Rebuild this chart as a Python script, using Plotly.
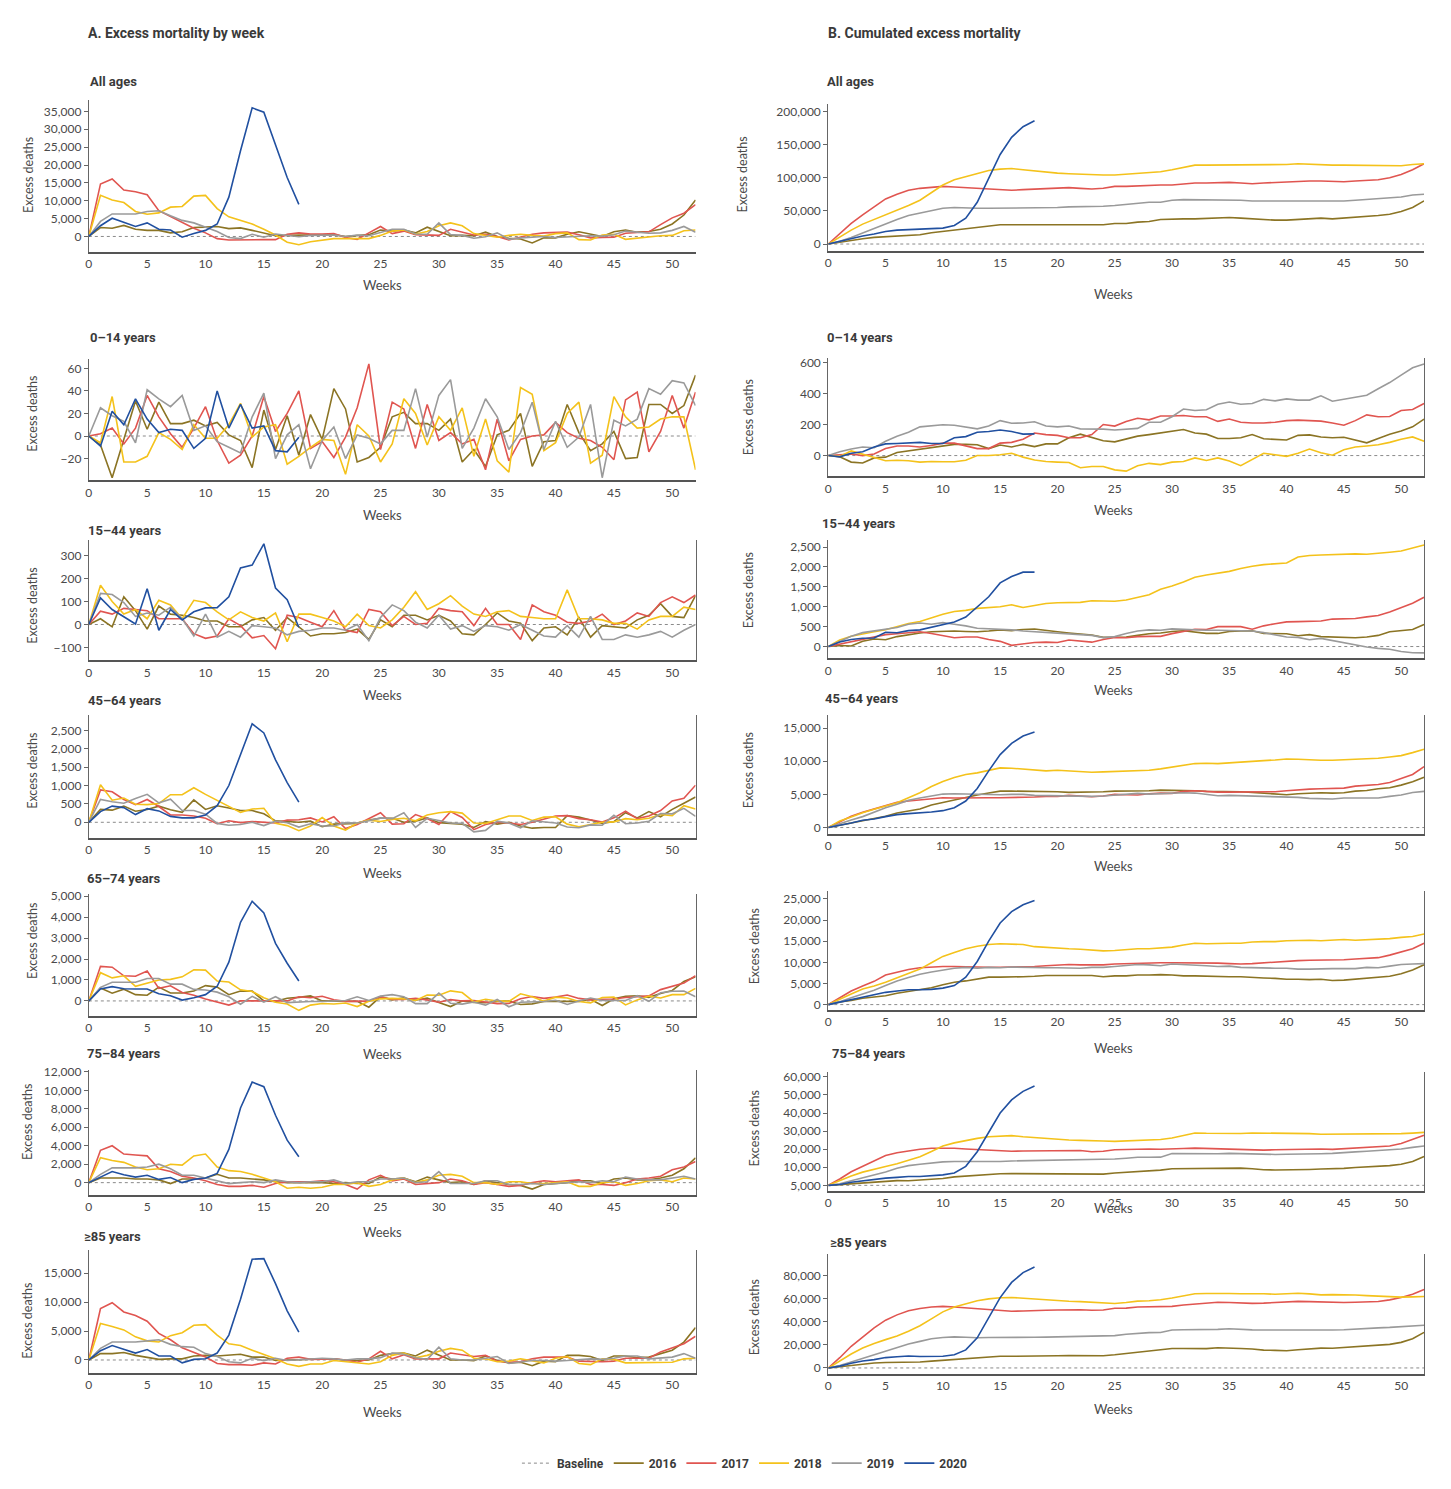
import plotly.graph_objects as go

W, H = 1451, 1489

weeks = list(range(53))
weeks_2020 = list(range(19))
years = ["2016", "2017", "2018", "2019", "2020"]
year_colors = ["#8B7424", "#E05550", "#F4C21B", "#9A9A9A", "#2150A0"]
baseline_weeks = [0, 52]
baseline_value = [0, 0]

# ---------------- A. weekly excess deaths ----------------
wk_all_2016 = [0, 2500, 2300, 3100, 2000, 1700, 1700, 1000, 1300, 2500,
               2600, 2800, 2200, 2400, 1700, 1000, 200, 300, 400, 500,
               400, 500, 0, 200, 500, 1800, 1500, 1800, 1000, 2600,
               1300, 200, 300, 200, 1200, 0, -500, -700, -1800, -400,
               -400, 600, 1300, 700, 0, 1300, 1800, 1200, 1400, 2000,
               3500, 6000, 10200]
wk_all_2017 = [0, 14700, 16100, 13000, 12500, 11700, 7200, 5600, 3800, 2300,
               1000, -600, -1000, -900, -1000, -900, -900, 600, 1000, 700,
               700, 800, -300, -800, 1000, 2800, 800, 1500, 500, 400,
               300, 2000, 1200, 400, 600, 0, -1000, -300, 600, 1000,
               1200, 1200, 500, -400, -300, -200, 900, 1200, 1300, 3300,
               5200, 6500, 8900]
wk_all_2018 = [0, 11500, 10200, 9500, 7000, 6200, 6600, 8200, 8400, 11300,
               11500, 7800, 5500, 4500, 3500, 2000, 400, -1600, -2300, -1500,
               -1000, -600, -600, -700, -600, 300, 1500, 1800, 700, 1400,
               3000, 3800, 3000, 800, 200, -200, 300, 600, 300, 100,
               800, 1000, -900, -1000, 400, 600, -800, -500, 0, 200,
               300, 1600, 1800]
wk_all_2019 = [0, 4200, 6300, 6300, 6300, 7000, 7200, 5800, 4500, 3800,
               2500, 1400, -300, -600, 600, -200, 700, 300, -100, 300,
               300, 400, 0, 400, 200, 1000, 2000, 2000, 700, 600,
               3800, 500, 300, -500, -100, 1000, -800, -400, -200, 0,
               -300, -100, -100, 200, 100, 500, 1500, 1200, 900, 1000,
               1700, 2800, 1200]
wk_all_2020 = [0, 3000, 5100, 3900, 2800, 3800, 2000, 1800, -200, 800,
               1700, 3500, 11000, 24000, 36000, 34800, 25500, 16500, 9000]

wk_014_2016 = [0, -8, -37, -4, 31, 6, 30, 11, 11, 14,
               9, 12, 1, -4, -28, 23, -12, 18, -17, 19,
               -3, 42, 24, -23, -19, -10, 17, 21, 11, 11,
               5, 15, -23, -12, -27, 1, 5, 20, -27, -5,
               -4, 28, 3, -13, -7, 4, -20, -19, 28, 28,
               20, 27, 54]
wk_014_2017 = [0, 2, 7, -7, 7, 36, 17, 2, -10, 7,
               26, -4, -24, -17, 0, 35, 4, 20, 40, -11,
               -5, -19, -1, 25, 64, -12, 30, 24, -11, 28,
               -4, 3, -7, -3, -30, 15, -22, -3, 0, 1,
               12, 3, -2, -4, -10, -21, 32, 39, -14, 4,
               36, 7, 39]
wk_014_2018 = [0, -6, 35, -23, -23, -18, 3, -3, -12, 10,
               -2, -2, 10, 29, -1, 8, 10, -25, -18, -10,
               -3, -4, -34, 10, 0, -23, -7, 33, 20, -8,
               17, 5, 25, -18, 15, -22, -32, 43, 37, -13,
               -6, 20, 30, -24, -17, 35, 17, 7, 8, 15,
               17, 17, -30]
wk_014_2019 = [0, 25, 18, 13, -6, 41, 33, 26, 36, 5,
               9, -5, -10, -15, 17, 38, -20, 1, 10, -29,
               -4, 8, -20, 1, -2, -7, 5, 5, 42, -1,
               36, 50, -11, 7, 33, 17, -12, 3, 30, -12,
               13, -10, -1, 28, -37, 14, 9, 15, 42, 37,
               49, 47, 27]
wk_014_2020 = [0, -9, 22, 10, 33, 15, 3, 6, 5, -11,
               -2, 40, 7, 28, 7, 9, -13, -14, -1]

wk_1544_2016 = [0, 25, -10, 120, 60, -20, 80, 45, 40, 30,
                15, 15, -10, -10, 20, 30, -25, 30, -10, -50,
                -40, -40, -35, -20, -65, 20, -10, 40, 40, 20,
                40, 15, -40, -45, 0, 50, 15, 5, -70, -15,
                -10, -45, 30, -55, -5, -10, -15, 20, 40, 90,
                35, 30, 125]
wk_1544_2017 = [0, 58, 45, 70, 65, 60, 25, 25, 25, -40,
                -60, -50, 25, -5, -58, -48, -105, 40, 30, 10,
                -10, 60, -25, -35, 65, 55, -5, 35, 0, 5,
                70, 60, 55, -5, 70, 0, 0, -65, 85, 55,
                40, 10, 5, 15, 45, 0, 15, 50, 35, 95,
                120, 95, 128]
wk_1544_2018 = [0, 170, 100, 45, 65, 25, 105, 85, 25, 105,
                95, 55, 20, 55, 30, 15, 50, -75, 45, 45,
                30, 15, -10, 45, -5, -15, 20, 75, 142, 65,
                90, 125, 80, 45, 35, 55, 60, 35, 30, 25,
                25, 150, 25, 25, 20, 5, 5, -20, 20, 35,
                35, 75, 65]
wk_1544_2019 = [0, 135, 130, 95, 35, 50, 40, 75, 25, -50,
                45, -55, -30, -55, -5, -10, -15, -45, -30, -25,
                -15, -15, -25, 0, -70, 30, 85, 60, 10, -15,
                40, -20, -5, -30, -5, -10, -25, 0, -25, -50,
                -55, -5, -55, 35, -65, -65, -45, -55, -45, -30,
                -55, -25, 0]
wk_1544_2020 = [0, 115, 65, 35, 2, 155, -25, 65, 20, 55,
                72, 73, 120, 245, 258, 350, 158, 108, -12]

wk_4564_2016 = [0, 350, 330, 440, 300, 350, 440, 340, 270, 610,
                350, 450, 390, 320, 320, 230, 40, 20, 0, 30,
                -120, -50, -30, -30, 60, 110, 110, 0, 30, 120,
                -10, -40, -50, -140, 20, -50, 0, -100, -160, -140,
                -140, 180, 140, 60, -30, 20, 260, 120, 290, 150,
                350, 520, 690]
wk_4564_2017 = [0, 880, 830, 620, 480, 620, 430, 200, 200, 170,
                110, -40, 40, -10, 20, 0, -20, 60, 70, 120,
                10, 150, -170, -60, 100, 260, -50, -40, 210, 100,
                -60, 290, 130, -200, -60, 0, -20, -60, 0, 80,
                170, 180, 100, 70, 10, 120, 300, 100, 170, 320,
                580, 650, 1010]
wk_4564_2018 = [0, 1020, 600, 660, 490, 480, 510, 750, 750, 940,
                760, 600, 440, 270, 360, 380, -30, -90, -230, -100,
                130, -100, -210, -20, 60, 20, 80, 110, 40, 200,
                260, 290, 250, -20, -30, 70, 170, 170, 50, 140,
                150, -50, -120, -60, 0, 10, 100, 70, 110, 210,
                180, 450, 360]
wk_4564_2019 = [0, 620, 560, 520, 650, 760, 530, 630, 320, 320,
                220, -30, -80, -60, 0, -90, 30, -10, -130, -40,
                -100, -100, -10, -20, 40, 120, 100, 260, -140, 110,
                50, -20, -30, -260, -220, 30, -20, -150, 40, 10,
                -20, -130, -150, -70, -80, 190, -40, -20, 30, 240,
                230, 380, 160]
wk_4564_2020 = [0, 290, 440, 400, 210, 370, 310, 160, 120, 120,
                200, 450, 1000, 1850, 2680, 2430, 1700, 1080, 550]

wk_6574_2016 = [0, 620, 370, 560, 300, 270, 660, 380, 380, 470,
                730, 660, 300, 470, 470, 0, -20, 130, 170, 240,
                0, -10, -20, -20, -300, 200, 50, 150, 30, 140,
                -80, -270, 0, -70, -90, -20, -10, -170, -140, -30,
                -20, -20, -20, 80, -220, 100, 220, 250, 170, 350,
                500, 930, 1150]
wk_6574_2017 = [0, 1650, 1610, 1200, 1180, 1430, 600, 720, 400, 270,
                90, -60, -200, 0, 0, 0, 0, 0, 200, 150,
                220, 60, -20, -20, -10, 200, 70, 70, 120, 50,
                -60, 60, 0, 20, -50, -130, -120, 100, 210, 120,
                180, 280, 120, 50, 80, 90, 160, 200, 240, 540,
                700, 850, 1200]
wk_6574_2018 = [0, 1350, 1100, 1200, 700, 850, 1000, 1030, 1150, 1490,
                1470, 950, 900, 530, 450, 150, -60, -150, -450, -200,
                -120, -150, -100, -270, -20, 100, 120, 100, 20, 280,
                270, 480, 400, -50, 80, 0, -20, 340, 200, -10,
                180, 140, -30, -90, 160, 190, -190, 50, 230, 140,
                300, 300, 600]
wk_6574_2019 = [0, 650, 890, 900, 890, 1070, 1070, 800, 800, 550,
                520, 420, 200, -160, 220, -60, 200, -80, -40, -30,
                -30, -20, 20, 200, 20, 230, 300, 200, -130, -130,
                370, -110, -150, -50, -200, 70, -280, -60, -60, -30,
                30, -170, 0, 140, 20, 20, 20, 250, -20, 390,
                460, 470, 200]
wk_6574_2020 = [0, 570, 680, 580, 570, 570, 340, 250, 40, 150,
                300, 700, 1850, 3750, 4760, 4200, 2750, 1800, 950]

wk_7584_2016 = [0, 500, 500, 500, 400, 400, 300, -100, 400, 400,
                500, 900, 500, 500, 400, 300, 100, 0, 0, 0,
                0, -100, 0, -100, -100, 600, 400, 500, 100, 600,
                300, 0, 100, -200, 200, 0, -200, -300, -700, -200,
                -100, 0, 200, 200, -100, 400, 500, 300, 300, 500,
                800, 1500, 2700]
wk_7584_2017 = [0, 3500, 4000, 3100, 3000, 2900, 1500, 1200, 700, 500,
                200, -200, -400, -400, -300, -500, -100, 100, 100, 100,
                200, 100, -200, -700, 300, 800, 200, 400, -200, -100,
                0, 400, 200, -200, 0, -200, -400, -300, 0, 200,
                100, 200, 300, -200, -200, -300, 0, 400, 500, 700,
                1400, 1700, 2300]
wk_7584_2018 = [0, 2700, 2400, 2200, 1700, 1400, 1500, 2000, 1900, 2900,
                3100, 1700, 1300, 1200, 900, 500, 100, -600, -500, -600,
                -500, -200, -200, 0, -400, -200, 300, 500, 0, 300,
                800, 900, 700, 0, 0, -200, 100, 100, -100, -100,
                0, 100, -400, -400, 0, 100, -300, -100, 200, 300,
                100, 500, 400]
wk_7584_2019 = [0, 900, 1600, 1600, 1600, 1700, 2000, 1500, 800, 800,
                500, 200, -100, 0, 100, 0, 300, 100, 0, 100,
                100, 300, -100, 100, 100, 400, 400, 500, 0, 100,
                1200, -100, -100, -100, 200, 200, -200, -200, -100, -200,
                -100, 0, 100, 0, 200, 100, 600, 400, 300, 300,
                500, 700, 400]
wk_7584_2020 = [0, 600, 1200, 850, 600, 800, 350, 550, 0, 350,
                500, 1000, 3600, 8100, 10900, 10400, 7300, 4600, 2800]

wk_85_2016 = [0, 1100, 1100, 1300, 800, 400, 100, 200, 200, 700,
              800, 700, 800, 1000, 500, 500, -100, 0, 100, 200,
              200, 200, -100, -100, 0, 800, 1100, 1200, 700, 1700,
              800, 0, 0, -100, 700, -100, -500, -400, -1000, -200,
              -300, 800, 800, 600, -100, 700, 700, 400, 500, 1100,
              1700, 3100, 5600]
wk_85_2017 = [0, 8900, 9900, 8300, 7700, 6700, 4600, 3500, 2100, 1300,
              500, -600, -800, -800, -900, -500, -700, 300, 500, 100,
              200, 200, 0, -400, 200, 1500, 200, 900, 200, 200,
              200, 1200, 900, 600, 800, -200, -400, -300, 200, 500,
              500, 500, -200, -300, -300, -200, 300, 300, 300, 1400,
              2100, 2800, 4100]
wk_85_2018 = [0, 6300, 5800, 5200, 4000, 3300, 3100, 4200, 4700, 6000,
              6100, 4300, 2800, 2500, 1700, 1000, 200, -700, -1100, -700,
              -700, -100, -300, -600, -700, -300, 800, 1200, 400, 800,
              1500, 2000, 1700, 300, 200, -300, -200, 200, -100, -500,
              300, 600, -600, -800, 200, 100, -500, -500, -500, -400,
              -400, 200, 300]
wk_85_2019 = [0, 2000, 3100, 3100, 3100, 3300, 3500, 2700, 2300, 2200,
              1100, 600, -300, -500, 300, -100, 300, -100, 0, 200,
              300, 200, 0, 200, 200, 400, 1200, 1000, 400, 100,
              2200, 200, 0, 0, 300, 600, -600, -400, -100, -100,
              -200, -100, 0, 200, 100, 300, 700, 700, 200, 400,
              500, 1100, 300]
wk_85_2020 = [0, 1600, 2500, 1900, 1200, 1800, 700, 700, -500, 100,
              200, 1200, 4300, 10500, 17400, 17500, 13200, 8500, 4800]

# ---------------- B. cumulated excess deaths ----------------
cum_all_2016 = [0, 3000, 5000, 8000, 10000, 11000, 12000, 13000, 14000, 17000,
                19000, 22000, 24000, 26000, 28000, 29000, 29000, 29000, 29000, 29000,
                30000, 30000, 30000, 30000, 29000, 31000, 31000, 33000, 34000, 37000,
                38000, 38000, 38000, 39000, 40000, 40000, 39000, 38000, 36000, 36000,
                36000, 37000, 38000, 39000, 38000, 39000, 41000, 42000, 43000, 45000,
                49000, 55000, 65000]
cum_all_2017 = [0, 16000, 31000, 44000, 56000, 68000, 75000, 81000, 84000, 86000,
                87000, 86000, 85000, 84000, 83000, 82000, 81000, 82000, 83000, 83000,
                84000, 85000, 84000, 83000, 84000, 87000, 87000, 88000, 89000, 89000,
                89000, 91000, 92000, 92000, 93000, 93000, 92000, 91000, 92000, 93000,
                94000, 95000, 95000, 95000, 94000, 94000, 95000, 96000, 97000, 100000,
                105000, 112000, 121000]
cum_all_2018 = [0, 11000, 21000, 30000, 37000, 43000, 50000, 58000, 66000, 78000,
                89000, 97000, 102000, 107000, 111000, 113000, 114000, 112000, 110000, 108000,
                107000, 106000, 105000, 104000, 104000, 104000, 105000, 107000, 108000, 109000,
                112000, 116000, 119000, 119000, 119000, 119000, 119000, 120000, 120000, 120000,
                120000, 121000, 120000, 119000, 119000, 119000, 119000, 118000, 118000, 118000,
                118000, 120000, 121000]
cum_all_2019 = [0, 4000, 10000, 17000, 23000, 30000, 37000, 43000, 47000, 51000,
                54000, 55000, 54000, 54000, 54000, 54000, 55000, 55000, 55000, 55000,
                55000, 56000, 56000, 57000, 57000, 58000, 60000, 62000, 63000, 63000,
                66000, 67000, 67000, 67000, 66000, 67000, 66000, 65000, 65000, 65000,
                64000, 64000, 64000, 64000, 65000, 65000, 66000, 67000, 68000, 69000,
                71000, 74000, 75000]
cum_all_2020 = [0, 4000, 9000, 12000, 15000, 19000, 21000, 22000, 22000, 23000,
                24000, 28000, 39000, 63000, 99000, 135000, 161000, 177000, 186000]

cum_014_2016 = [0, -8, -42, -48, -15, -10, 20, 30, 40, 52,
                62, 72, 72, 70, 45, 68, 55, 72, 58, 75,
                75, 115, 138, 115, 95, 88, 105, 125, 135, 145,
                155, 168, 145, 138, 110, 110, 115, 135, 108, 105,
                100, 130, 133, 120, 115, 118, 100, 82, 110, 138,
                158, 185, 235]
cum_014_2017 = [0, 3, 10, 0, 10, 45, 62, 62, 55, 65,
                80, 80, 60, 45, 45, 80, 85, 105, 145, 135,
                130, 115, 115, 135, 200, 190, 220, 240, 230, 255,
                255, 258, 250, 250, 220, 235, 215, 210, 210, 215,
                225, 228, 225, 222, 210, 195, 225, 262, 250, 252,
                290, 297, 335]
cum_014_2018 = [0, -5, 30, 8, -15, -33, -30, -33, -42, -38,
                -40, -40, -30, 0, 0, 5, 15, -10, -28, -38,
                -42, -45, -78, -70, -70, -92, -100, -65, -50, -58,
                -42, -38, -15, -32, -15, -35, -65, -25, 15, 5,
                -5, 15, 42, 18, 2, 37, 55, 62, 70, 85,
                105, 120, 92]
cum_014_2019 = [0, 25, 42, 55, 50, 92, 125, 150, 185, 190,
                198, 195, 185, 172, 190, 225, 208, 210, 218, 190,
                185, 190, 172, 172, 170, 165, 170, 175, 215, 215,
                250, 300, 290, 295, 330, 345, 330, 335, 362, 352,
                365, 357, 357, 385, 350, 363, 372, 388, 430, 470,
                518, 565, 590]
cum_014_2020 = [0, -8, 15, 25, 55, 75, 78, 82, 85, 78,
                78, 115, 122, 150, 155, 165, 155, 138, 140]

cum_1544_2016 = [0, 25, 15, 135, 190, 170, 250, 300, 340, 370,
                 380, 390, 380, 370, 390, 420, 400, 430, 440, 400,
                 370, 340, 310, 290, 230, 240, 240, 280, 320, 340,
                 380, 395, 355, 330, 330, 380, 390, 395, 330, 320,
                 320, 270, 300, 250, 240, 230, 220, 240, 280, 370,
                 400, 430, 555]
cum_1544_2017 = [0, 60, 110, 175, 240, 300, 320, 345, 370, 330,
                 270, 220, 240, 240, 175, 130, 30, 70, 100, 110,
                 100, 165, 140, 110, 175, 225, 220, 250, 255, 255,
                 325, 385, 435, 430, 500, 500, 500, 435, 520, 575,
                 620, 625, 625, 640, 690, 690, 705, 745, 780, 870,
                 990, 1090, 1240]
cum_1544_2018 = [0, 165, 260, 320, 370, 420, 500, 580, 630, 720,
                 810, 880, 910, 960, 980, 1000, 1050, 980, 1030, 1080,
                 1100, 1110, 1110, 1150, 1150, 1140, 1170, 1240, 1300, 1440,
                 1520, 1620, 1740, 1800, 1840, 1890, 1960, 2020, 2060, 2080,
                 2100, 2250, 2290, 2300, 2310, 2320, 2330, 2320, 2340, 2370,
                 2400, 2480, 2550]
cum_1544_2019 = [0, 135, 260, 350, 390, 440, 480, 560, 590, 560,
                 600, 560, 520, 460, 450, 440, 420, 390, 370, 350,
                 330, 310, 290, 280, 225, 250, 330, 390, 420, 410,
                 445, 430, 430, 410, 410, 405, 390, 390, 350, 300,
                 240, 230, 170, 205, 150, 100, 55, -10, -45, -70,
                 -125, -155, -160]
cum_1544_2020 = [0, 115, 175, 210, 215, 360, 345, 400, 420, 480,
                 545, 615, 740, 990, 1250, 1600, 1760, 1870, 1870]

cum_4564_2016 = [0, 350, 650, 1100, 1400, 1700, 2200, 2500, 2800, 3400,
                 3800, 4200, 4600, 4900, 5200, 5500, 5500, 5500, 5500, 5500,
                 5400, 5300, 5300, 5300, 5400, 5500, 5500, 5500, 5550, 5650,
                 5650, 5600, 5550, 5450, 5450, 5400, 5400, 5300, 5150, 5050,
                 4950, 5100, 5200, 5250, 5200, 5250, 5500, 5600, 5850, 6000,
                 6400, 6900, 7600]
cum_4564_2017 = [0, 900, 1700, 2300, 2800, 3400, 3800, 4000, 4200, 4400,
                 4500, 4450, 4500, 4500, 4500, 4500, 4500, 4550, 4600, 4700,
                 4700, 4850, 4700, 4650, 4750, 5000, 4950, 4900, 5100, 5200,
                 5150, 5450, 5550, 5400, 5350, 5350, 5350, 5300, 5300, 5400,
                 5550, 5700, 5800, 5850, 5850, 5950, 6250, 6350, 6500, 6800,
                 7400, 8000, 9200]
cum_4564_2018 = [0, 1000, 1600, 2250, 2750, 3200, 3750, 4500, 5250, 6200,
                 6950, 7550, 8000, 8250, 8600, 9000, 8950, 8850, 8650, 8550,
                 8650, 8550, 8350, 8350, 8400, 8450, 8500, 8600, 8650, 8850,
                 9100, 9400, 9650, 9700, 9650, 9750, 9900, 10050, 10100, 10200,
                 10350, 10300, 10200, 10150, 10150, 10200, 10300, 10350, 10450, 10650,
                 10850, 11300, 11800]
cum_4564_2019 = [0, 600, 1150, 1650, 2300, 3000, 3500, 4100, 4450, 4750,
                 5050, 5100, 5050, 5000, 5000, 4950, 5000, 5000, 4850, 4800,
                 4750, 4750, 4700, 4700, 4750, 4850, 4950, 5150, 5050, 5150,
                 5250, 5250, 5200, 5000, 4800, 4850, 4800, 4700, 4700, 4700,
                 4650, 4550, 4400, 4350, 4300, 4450, 4450, 4450, 4450, 4700,
                 4900, 5300, 5450]
cum_4564_2020 = [0, 300, 700, 1100, 1300, 1650, 1950, 2100, 2200, 2350,
                 2550, 3000, 4000, 5900, 8550, 11000, 12700, 13800, 14400]

cum_6574_2016 = [0, 600, 1000, 1500, 1800, 2100, 2700, 3100, 3500, 4000,
                 4700, 5300, 5600, 6100, 6500, 6500, 6500, 6600, 6700, 6900,
                 6900, 6900, 6900, 6900, 6600, 6800, 6800, 7000, 7000, 7100,
                 7000, 6800, 6800, 6700, 6600, 6600, 6600, 6400, 6300, 6200,
                 6000, 6000, 5900, 6000, 5700, 5800, 6000, 6300, 6500, 6700,
                 7300, 8200, 9400]
cum_6574_2017 = [0, 1600, 3200, 4400, 5500, 7000, 7600, 8300, 8700, 8900,
                 9000, 9000, 8900, 8900, 8850, 8850, 8850, 8900, 9000, 9200,
                 9400, 9500, 9400, 9400, 9400, 9600, 9700, 9700, 9800, 9900,
                 9900, 9900, 9900, 9900, 9800, 9700, 9600, 9700, 9900, 10000,
                 10200, 10400, 10500, 10500, 10500, 10600, 10800, 10900, 11100, 11700,
                 12400, 13200, 14500]
cum_6574_2018 = [0, 1300, 2500, 3700, 4400, 5300, 6300, 7300, 8400, 9900,
                 11400, 12300, 13200, 13800, 14200, 14400, 14300, 14200, 13700, 13500,
                 13400, 13200, 13100, 12900, 12700, 12800, 13000, 13200, 13200, 13400,
                 13600, 14100, 14500, 14400, 14500, 14500, 14500, 14800, 14900, 14900,
                 15100, 15200, 15200, 15100, 15200, 15400, 15200, 15300, 15500, 15600,
                 15900, 16100, 16700]
cum_6574_2019 = [0, 700, 1600, 2500, 3400, 4500, 5600, 6400, 7200, 7700,
                 8200, 8600, 8800, 8600, 8800, 8700, 8900, 8800, 8700, 8700,
                 8700, 8600, 8600, 8800, 8800, 9000, 9300, 9500, 9400, 9200,
                 9600, 9500, 9300, 9200, 9000, 9100, 8800, 8700, 8700, 8600,
                 8600, 8400, 8400, 8500, 8500, 8500, 8500, 8800, 8700, 9100,
                 9500, 9600, 9700]
cum_6574_2020 = [0, 600, 1200, 1800, 2300, 2900, 3200, 3500, 3500, 3600,
                 3900, 4500, 6500, 10200, 15000, 19300, 22000, 23600, 24600]

cum_7584_2016 = [0, 500, 1000, 1500, 1900, 2300, 2600, 2500, 2900, 3300,
                 3800, 4700, 5200, 5700, 6100, 6400, 6500, 6500, 6500, 6500,
                 6500, 6400, 6400, 6300, 6200, 6800, 7200, 7700, 7800, 8400,
                 9200, 9300, 9400, 9300, 9500, 9600, 9500, 9200, 8600, 8500,
                 8500, 8600, 8800, 9000, 9000, 9400, 9900, 10200, 10500, 10900,
                 11700, 13200, 16000]
cum_7584_2017 = [0, 3500, 7500, 10500, 13500, 16500, 18000, 19200, 20000, 20500,
                 20700, 20500, 20100, 19800, 19500, 19000, 18900, 19000, 19100, 19200,
                 19400, 19500, 19300, 18600, 18900, 19700, 19900, 20300, 20100, 20000,
                 20000, 20400, 20600, 20400, 20400, 20200, 19800, 19500, 19500, 19700,
                 19800, 20000, 20300, 20100, 19900, 20300, 20400, 20700, 21100, 21800,
                 23200, 25300, 27700]
cum_7584_2018 = [0, 2700, 5100, 7300, 9000, 10400, 11900, 13900, 15800, 18700,
                 21800, 23500, 24800, 26000, 26900, 27400, 27500, 26900, 26400, 25800,
                 25300, 25100, 24900, 24900, 24500, 24300, 24600, 25100, 25100, 25400,
                 26200, 27800, 29000, 28800, 28700, 28700, 28700, 29000, 29000, 28700,
                 28700, 29000, 28600, 28300, 28300, 28500, 28200, 28200, 28300, 28600,
                 28600, 28900, 29300]
cum_7584_2019 = [0, 900, 2500, 4100, 5700, 7400, 9400, 10900, 11700, 12500,
                 13000, 13200, 13100, 13100, 13200, 13200, 13500, 13600, 13600, 13700,
                 13800, 14100, 14000, 14100, 14200, 14600, 15000, 15500, 15500, 15600,
                 17600, 17500, 17400, 17300, 17500, 17700, 17500, 17300, 17200, 17100,
                 17200, 17200, 17400, 17500, 17700, 17900, 18500, 18900, 19300, 19600,
                 20100, 21000, 21800]
cum_7584_2020 = [0, 500, 1700, 2500, 3200, 4000, 4400, 4900, 4900, 5300,
                 5800, 6800, 10500, 18600, 29500, 40000, 47300, 52000, 55000]

cum_85_2016 = [0, 1100, 2200, 3500, 4300, 4700, 4800, 5000, 5200, 5900,
               6700, 7400, 8200, 9200, 9700, 10200, 10100, 10100, 10200, 10400,
               10600, 10800, 10700, 10600, 10600, 11400, 12500, 13700, 14400, 16100,
               16900, 16900, 16900, 16800, 17500, 17400, 16900, 16500, 15500, 15300,
               15000, 15800, 16600, 17200, 17100, 17800, 18500, 18900, 19400, 20500,
               22200, 25300, 30900]
cum_85_2017 = [0, 8900, 18800, 27100, 34800, 41500, 46100, 49600, 51700, 53000,
               53500, 52900, 52100, 51300, 50400, 49900, 49200, 49500, 50000, 50100,
               50300, 50500, 50500, 50100, 50300, 51800, 52000, 52900, 53100, 53300,
               53500, 54700, 55600, 56200, 57000, 56800, 56400, 56100, 56300, 56800,
               57300, 57800, 57600, 57300, 57000, 56800, 57100, 57400, 57700, 59100,
               61200, 64000, 68100]
cum_85_2018 = [0, 6300, 12100, 17300, 21300, 24600, 27700, 31900, 36600, 42600,
               48700, 53000, 55800, 58300, 60000, 61000, 61200, 60500, 59400, 58700,
               58000, 57900, 57600, 57000, 56300, 56000, 56800, 58000, 58400, 59200,
               60700, 62700, 64400, 64700, 64900, 64600, 64400, 64600, 64500, 64000,
               64300, 64900, 64300, 63500, 63700, 63800, 63300, 62800, 62300, 61900,
               61500, 61700, 62000]
cum_85_2019 = [0, 2000, 5100, 8200, 11300, 14600, 18100, 20800, 23100, 25300,
               26400, 27000, 26700, 26200, 26500, 26400, 26700, 26600, 26600, 26800,
               27100, 27300, 27300, 27500, 27700, 28100, 29300, 30300, 30700, 30800,
               33000, 33200, 33200, 33200, 33500, 34100, 33500, 33100, 33000, 32900,
               32700, 32600, 32600, 32800, 32900, 33200, 33900, 34600, 34800, 35200,
               35700, 36800, 37100]
cum_85_2020 = [0, 1600, 4100, 6000, 7200, 9000, 9700, 10400, 9900, 10000,
               10200, 11400, 15700, 26200, 43600, 61100, 74300, 82800, 87600]

# ---------------- layout (pixel geometry) ----------------
LEFT_X = (86, 694)
RIGHT_X = (827, 1424)

panels = [
    dict(col="L", data=[wk_all_2016, wk_all_2017, wk_all_2018, wk_all_2019, wk_all_2020],
         title="All ages", tpos=(85, 76), top=95, bottom=247, cal=((35000, 106), (0, 231.7)),
         ticks=list(range(0, 35001, 5000)), ytpos=(25, 170), wy=281, mirror=False),
    dict(col="L", data=[wk_014_2016, wk_014_2017, wk_014_2018, wk_014_2019, wk_014_2020],
         title="0–14 years", tpos=(85, 333), top=355, bottom=477, cal=((60, 364.3), (-20, 455)),
         ticks=list(range(-20, 61, 20)), ytpos=(30, 410), wy=512, mirror=False),
    dict(col="L", data=[wk_1544_2016, wk_1544_2017, wk_1544_2018, wk_1544_2019, wk_1544_2020],
         title="15–44 years", tpos=(83, 527), top=537, bottom=658, cal=((300, 552.3), (-100, 645)),
         ticks=list(range(-100, 301, 100)), ytpos=(30, 603), wy=693, mirror=True),
    dict(col="L", data=[wk_4564_2016, wk_4564_2017, wk_4564_2018, wk_4564_2019, wk_4564_2020],
         title="45–64 years", tpos=(83, 698), top=713, bottom=836, cal=((2500, 728.3), (0, 820.7)),
         ticks=list(range(0, 2501, 500)), ytpos=(30, 769), wy=872, mirror=True),
    dict(col="L", data=[wk_6574_2016, wk_6574_2017, wk_6574_2018, wk_6574_2019, wk_6574_2020],
         title="65–74 years", tpos=(82, 877), top=893, bottom=1015, cal=((5000, 895), (0, 1000.3)),
         ticks=list(range(0, 5001, 1000)), ytpos=(30, 940), wy=1054, mirror=True),
    dict(col="L", data=[wk_7584_2016, wk_7584_2017, wk_7584_2018, wk_7584_2019, wk_7584_2020],
         title="75–84 years", tpos=(82, 1053), top=1070, bottom=1195, cal=((12000, 1071.7), (0, 1183)),
         ticks=list(range(0, 12001, 2000)), ytpos=(25, 1122), wy=1233, mirror=True),
    dict(col="L", data=[wk_85_2016, wk_85_2017, wk_85_2018, wk_85_2019, wk_85_2020],
         title="≥85 years", tpos=(79, 1237), top=1251, bottom=1374, cal=((15000, 1274), (0, 1361.3)),
         ticks=list(range(0, 15001, 5000)), ytpos=(25, 1322), wy=1414, mirror=True),
    dict(col="R", data=[cum_all_2016, cum_all_2017, cum_all_2018, cum_all_2019, cum_all_2020],
         title="All ages", tpos=(824, 76), top=99, bottom=246, cal=((200000, 106), (0, 239.3)),
         ticks=list(range(0, 200001, 50000)), ytpos=(741, 169), wy=290, mirror=False),
    dict(col="R", data=[cum_014_2016, cum_014_2017, cum_014_2018, cum_014_2019, cum_014_2020],
         title="0–14 years", tpos=(824, 333), top=354, bottom=473, cal=((600, 358.3), (0, 452)),
         ticks=list(range(0, 601, 200)), ytpos=(747, 413), wy=507, mirror=True),
    dict(col="R", data=[cum_1544_2016, cum_1544_2017, cum_1544_2018, cum_1544_2019, cum_1544_2020],
         title="15–44 years", tpos=(819, 520), top=537, bottom=656, cal=((2500, 544), (0, 644)),
         ticks=list(range(0, 2501, 500)), ytpos=(747, 587), wy=688, mirror=True),
    dict(col="R", data=[cum_4564_2016, cum_4564_2017, cum_4564_2018, cum_4564_2019, cum_4564_2020],
         title="45–64 years", tpos=(822, 696), top=713, bottom=832, cal=((15000, 726), (0, 826)),
         ticks=list(range(0, 15001, 5000)), ytpos=(747, 768), wy=865, mirror=True),
    dict(col="R", data=[cum_6574_2016, cum_6574_2017, cum_6574_2018, cum_6574_2019, cum_6574_2020],
         title=None, tpos=None, top=890, bottom=1009, cal=((25000, 897.7), (0, 1004)),
         ticks=list(range(0, 25001, 5000)), ytpos=(753, 945), wy=1048, mirror=True),
    dict(col="R", data=[cum_7584_2016, cum_7584_2017, cum_7584_2018, cum_7584_2019, cum_7584_2020],
         title="75–84 years", tpos=(829, 1053), top=1072, bottom=1191, cal=((60000, 1076.7), (0, 1185.7)),
         ticks=list(range(0, 60001, 10000)),
         ticktext=["5,000", "10,000", "20,000", "30,000", "40,000", "50,000", "60,000"],
         ytpos=(753, 1128), wy=1208, mirror=True),
    dict(col="R", data=[cum_85_2016, cum_85_2017, cum_85_2018, cum_85_2019, cum_85_2020],
         title="≥85 years", tpos=(827, 1243), top=1255, bottom=1375, cal=((80000, 1276.7), (0, 1369.3)),
         ticks=list(range(0, 80001, 20000)), ytpos=(753, 1318), wy=1411, mirror=True),
]

TXT = "#3a3a3a"
TICK = "#4a4a4a"
FONT = "Lato, 'Open Sans', sans-serif"
TFONT = "Roboto, 'Open Sans', sans-serif"

fig = go.Figure()
layout = dict(
    width=W, height=H, autosize=False,
    margin=dict(l=0, r=0, t=0, b=0),
    paper_bgcolor="white", plot_bgcolor="white",
    font=dict(family=FONT, size=12, color=TICK),
    showlegend=True,
    legend=dict(orientation="h", x=515 / W, xanchor="left", y=1 - 1465 / H, yanchor="middle",
                font=dict(family=TFONT, size=12, color=TXT, weight="bold"),
                itemwidth=30, tracegroupgap=0, bgcolor="rgba(0,0,0,0)"),
)
annotations = []


def px(x, y):
    return x / W, 1 - y / H


for i, p in enumerate(panels, start=1):
    sx = "" if i == 1 else str(i)
    x0, x1 = LEFT_X if p["col"] == "L" else RIGHT_X
    (v1, p1), (v2, p2) = p["cal"]
    k = (v1 - v2) / (p2 - p1)
    rtop = v1 + (p1 - p["top"]) * k
    rbot = v2 - (p["bottom"] - p2) * k

    layout["xaxis" + sx] = dict(
        domain=[x0 / W, x1 / W], anchor="y" + sx, range=[0, 52],
        tickvals=list(range(0, 51, 5)), showline=True, linecolor="#555555", linewidth=1.6,
        ticks="", showgrid=False, zeroline=False, tickfont=dict(size=12, color=TICK),
        fixedrange=True)
    ya = dict(
        domain=[1 - p["bottom"] / H, 1 - p["top"] / H], anchor="x" + sx, range=[rbot, rtop],
        tickvals=p["ticks"], showline=True, linecolor="#666666", linewidth=1.1,
        mirror=p["mirror"], ticks="outside", ticklen=4, tickcolor="#666666",
        showgrid=False, zeroline=False, tickformat=",d", tickfont=dict(size=12, color=TICK),
        fixedrange=True)
    if "ticktext" in p:
        ya["ticktext"] = p["ticktext"]
    layout["yaxis" + sx] = ya

    # baseline
    fig.add_trace(go.Scatter(
        x=baseline_weeks, y=baseline_value, mode="lines", name="Baseline",
        line=dict(color="#8a8a8a", width=1, dash="3px,3px"),
        xaxis="x" + sx, yaxis="y" + sx, legendgroup="base", showlegend=(i == 1),
        hoverinfo="skip"))
    for yr, col, series in zip(years, year_colors, p["data"]):
        xs = weeks_2020 if yr == "2020" else weeks
        fig.add_trace(go.Scatter(
            x=xs, y=series, mode="lines", name=yr,
            line=dict(color=col, width=1.6),
            xaxis="x" + sx, yaxis="y" + sx, legendgroup=yr, showlegend=(i == 1)))

    if p["title"]:
        tx, ty = px(*p["tpos"])
        annotations.append(dict(text="<b>" + p["title"] + "</b>", x=tx, y=ty, xref="paper", yref="paper",
                                xanchor="left", yanchor="middle", showarrow=False,
                                font=dict(family=TFONT, size=13, color=TXT)))
    ax_, ay_ = px(*p["ytpos"])
    annotations.append(dict(text="Excess deaths", x=ax_, y=ay_, xref="paper", yref="paper",
                            xanchor="center", yanchor="middle", showarrow=False, textangle=-90,
                            font=dict(family=FONT, size=12.5, color=TICK)))
    wx = 380 if p["col"] == "L" else 1113
    wxx, wyy = px(wx, p["wy"])
    annotations.append(dict(text="Weeks", x=wxx, y=wyy, xref="paper", yref="paper",
                            xanchor="center", yanchor="middle", showarrow=False,
                            font=dict(family=FONT, size=13, color=TICK)))

for text, (cx, cy) in [("A. Excess mortality by week", (83, 27)),
                       ("B. Cumulated excess mortality", (825, 27))]:
    tx, ty = px(cx, cy)
    annotations.append(dict(text="<b>" + text + "</b>", x=tx, y=ty, xref="paper", yref="paper",
                            xanchor="left", yanchor="middle", showarrow=False,
                            font=dict(family=TFONT, size=14, color=TXT)))

layout["annotations"] = annotations
fig.update_layout(**layout)
fig.write_html("out.html",
               config={"displayModeBar": False},
               post_script="document.body.style.margin='0px';document.body.style.overflow='hidden';")
